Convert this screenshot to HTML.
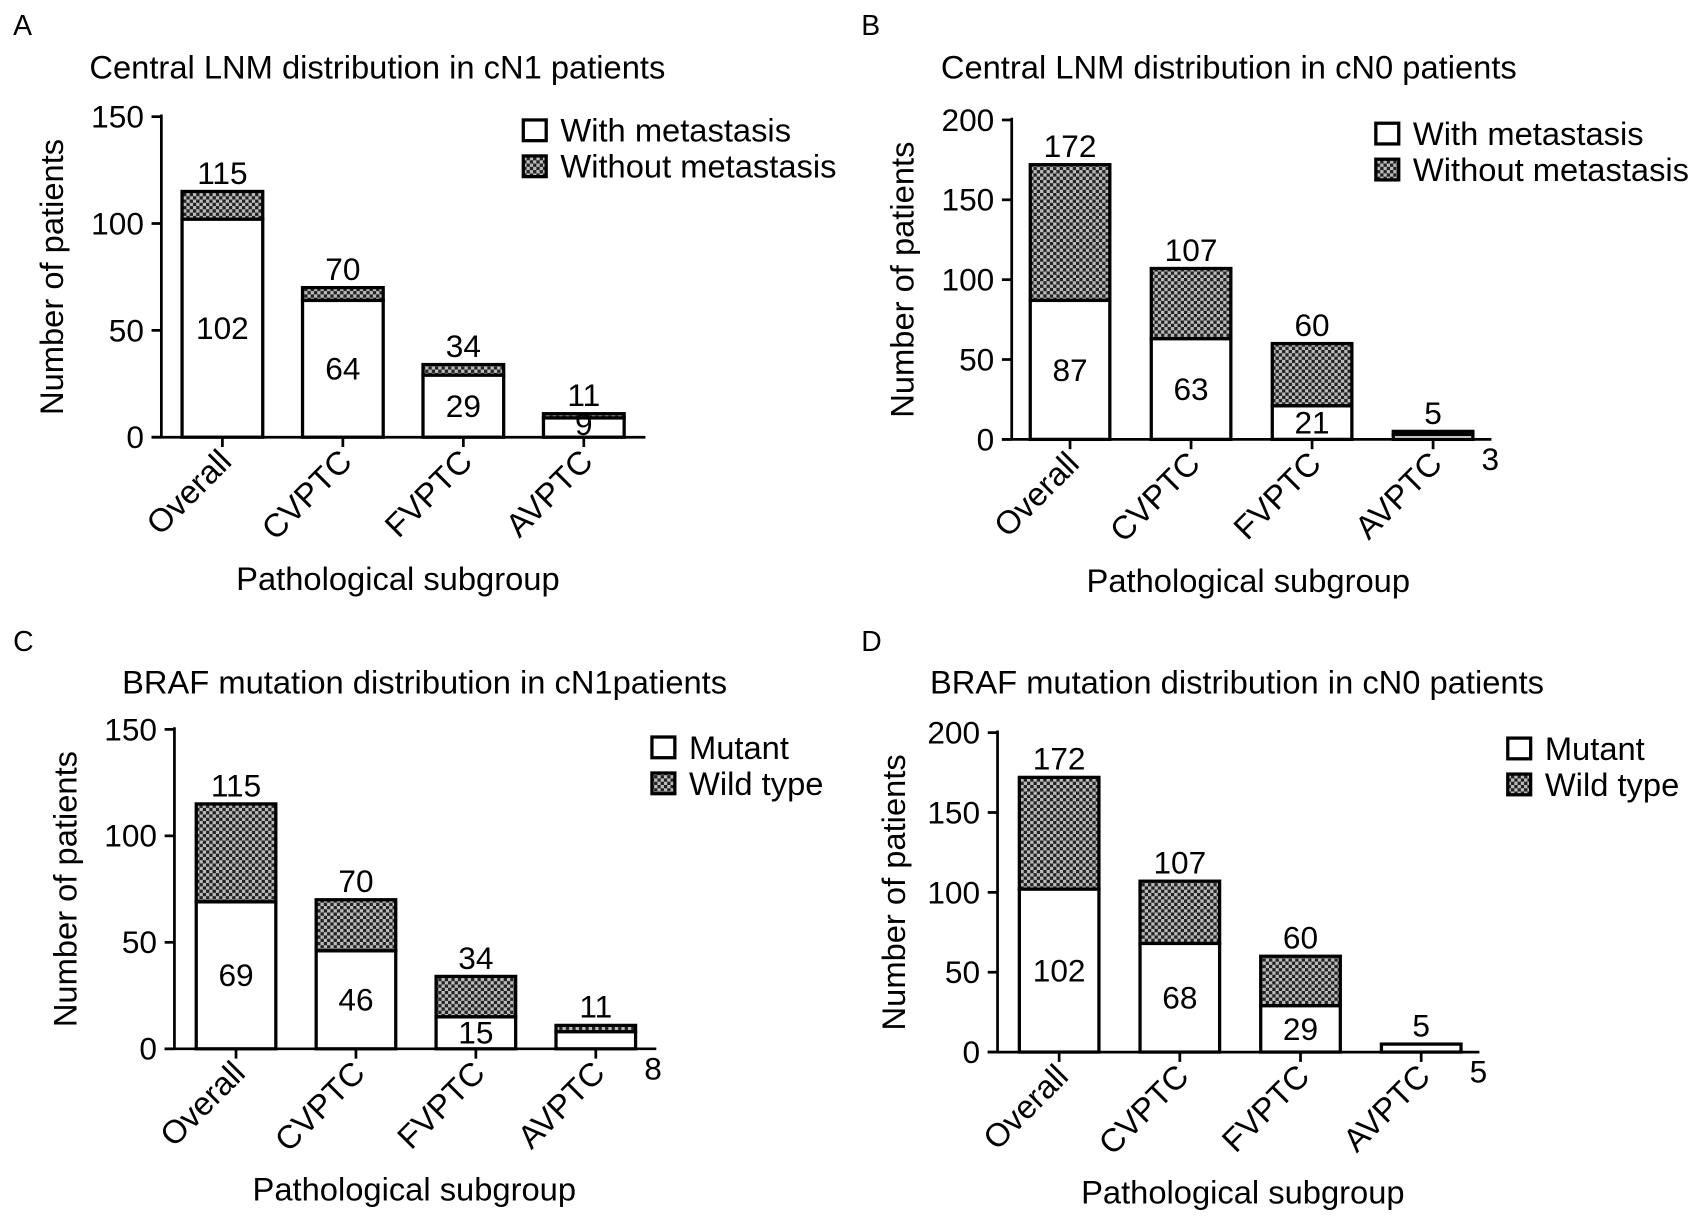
<!DOCTYPE html>
<html><head><meta charset="utf-8">
<style>
html,body{margin:0;padding:0;background:#fff;}
svg{display:block;font-family:"Liberation Sans",Arial,sans-serif;}
</style></head>
<body>
<svg id="fig" width="1704" height="1220" viewBox="0 0 1563 1119" xmlns="http://www.w3.org/2000/svg">
<defs>
<pattern id="check" width="6" height="6" patternUnits="userSpaceOnUse">
<rect width="6" height="6" fill="#222"/>
<rect x="0" y="0" width="3" height="3" fill="#bbb"/>
<rect x="3" y="3" width="3" height="3" fill="#bbb"/>
</pattern>
</defs>
</svg>
<script>
const categories = ["Overall","CVPTC","FVPTC","AVPTC"];
const aWith = [102,64,29,9];
const aTotal = [115,70,34,11];
const bWith = [87,63,21,3];
const bTotal = [172,107,60,5];
const cMutant = [69,46,15,8];
const cTotal = [115,70,34,11];
const dMutant = [102,68,29,5];
const dTotal = [172,107,60,5];
const ticks150 = [0,50,100,150];
const ticks200 = [0,50,100,150,200];

const NS="http://www.w3.org/2000/svg";
const svg=document.getElementById('fig');
function mk(tag,attrs,parent,text){const e=document.createElementNS(NS,tag);for(const k in attrs)e.setAttribute(k,attrs[k]);if(text!==undefined)e.textContent=text;(parent||svg).appendChild(e);return e;}

const panels=[
 {id:'a',letter:'A',lx:12,ly:32,title:'Central LNM distribution in cN1 patients',tx:82,ty:72,axX:148,y0:401,yTop:107,yMax:150,ticks:ticks150,bar0:167,step:110.5,bw:74,axEnd:592,low:aWith,tot:aTotal,outside:[false,false,false,false],leg:['With metastasis','Without metastasis'],legX:480,legY:110,ytx:48,xtx:365,xty:541},
 {id:'b',letter:'B',lx:790,ly:32,title:'Central LNM distribution in cN0 patients',tx:863,ty:72,axX:928,y0:403,yTop:110,yMax:200,ticks:ticks200,bar0:945,step:111,bw:73,axEnd:1368,low:bWith,tot:bTotal,outside:[false,false,false,true],leg:['With metastasis','Without metastasis'],legX:1262,legY:113,ytx:828,xtx:1145,xty:543},
 {id:'c',letter:'C',lx:12,ly:597,title:'BRAF mutation distribution in cN1patients',tx:112,ty:636,axX:160,y0:962,yTop:669,yMax:150,ticks:ticks150,bar0:180,step:110,bw:73,axEnd:602,low:cMutant,tot:cTotal,outside:[false,false,false,true],leg:['Mutant','Wild type'],legX:598,legY:676,ytx:60,xtx:380,xty:1101},
 {id:'d',letter:'D',lx:790,ly:597,title:'BRAF mutation distribution in cN0 patients',tx:853,ty:636,axX:915,y0:965,yTop:672,yMax:200,ticks:ticks200,bar0:935,step:110.7,bw:73,axEnd:1357,low:dMutant,tot:dTotal,outside:[false,false,false,true],leg:['Mutant','Wild type'],legX:1383,legY:677,ytx:820,xtx:1140,xty:1104}
];

panels.forEach(p=>{
 const g=mk('g',{});
 
 
 const yS=v=>p.y0-(v/p.yMax)*(p.y0-p.yTop);
 const lt=mk('text',{x:p.lx,y:p.ly,'font-size':26},g,p.letter);
 
 
 const tt=mk('text',{x:p.tx,y:p.ty,'font-size':30},g,p.title);
 
 
 const ya=mk('line',{x1:p.axX,y1:p.yTop-2,x2:p.axX,y2:p.y0,stroke:'#000','stroke-width':2.5},g);
 
 
 p.ticks.forEach(t=>{
  mk('line',{x1:p.axX-9,y1:yS(t),x2:p.axX,y2:yS(t),stroke:'#000','stroke-width':2.5},g);
  const tl=mk('text',{x:p.axX-16,y:yS(t)+10,'font-size':29,'text-anchor':'end'},g,t);
  
  
 });
 const xa=mk('line',{x1:p.axX-9,y1:p.y0,x2:p.axEnd,y2:p.y0,stroke:'#000','stroke-width':2.5},g);
 
 
 const yt=mk('text',{x:0,y:0,'font-size':30,'text-anchor':'middle',transform:`translate(${p.ytx+10},${(p.y0+p.yTop)/2}) rotate(-90)`},g,'Number of patients');
 
 
 const xt=mk('text',{x:p.xtx,y:p.xty,'font-size':30,'text-anchor':'middle'},g,'Pathological subgroup');
 
 
 categories.forEach((c,i)=>{
  const x=p.bar0+i*p.step, cx=x+p.bw/2;
  const low=p.low[i], tot=p.tot[i];
  const top=mk('rect',{x:x,y:yS(tot),width:p.bw,height:yS(low)-yS(tot),fill:'url(#check)',stroke:'#000','stroke-width':3},g);
  
  
  const bot=mk('rect',{x:x,y:yS(low),width:p.bw,height:p.y0-yS(low),fill:'#fff',stroke:'#000','stroke-width':3},g);
  
  
  mk('line',{x1:cx,y1:p.y0,x2:cx,y2:p.y0+9,stroke:'#000','stroke-width':2.5},g);
  const tv=mk('text',{x:cx,y:yS(tot)-7,'font-size':29,'text-anchor':'middle'},g,tot);
  
  
  let lv;
  if(p.outside[i]){
   lv=mk('text',{x:x+p.bw+16,y:p.y0+28,'font-size':29,'text-anchor':'middle'},g,low);
  }else{
   const my=(yS(low)+p.y0)/2+10;
   lv=mk('text',{x:cx,y:Math.min(my,p.y0-2),'font-size':29,'text-anchor':'middle'},g,low);
  }
  
  
  const cl=mk('text',{x:0,y:0,'font-size':30,'text-anchor':'end',transform:`translate(${cx+10},${p.y0+24}) rotate(-45)`},g,c);
  
  
 });
 p.leg.forEach((l,j)=>{
  const ly=p.legY+j*33;
  const r=mk('rect',{x:p.legX,y:ly,width:21,height:19,fill:j?'url(#check)':'#fff',stroke:'#000','stroke-width':3},g);
  
  
  const t=mk('text',{x:p.legX+34,y:ly+20,'font-size':30},g,l);
  
  
 });
});
</script>
</body></html>
